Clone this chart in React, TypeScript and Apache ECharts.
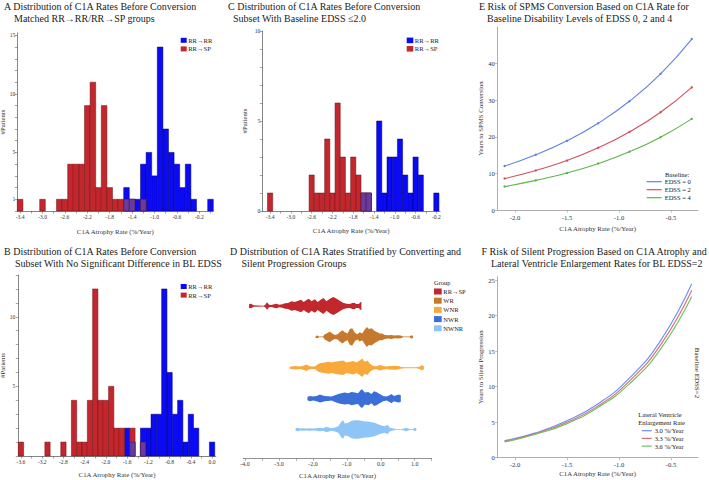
import React, { useEffect, useRef } from 'react';
import * as echarts from 'echarts';

const FONT = '"Liberation Serif", "Times New Roman", serif';
const BIN = 0.1;

// ---- Panel A: matched groups (bin centre, #patients)
const aRRRR: [number, number][] = [[-1.5, 2], [-1.4, 1], [-1.3, 1], [-1.2, 4], [-1.1, 5], [-1.0, 3], [-0.9, 14], [-0.8, 7], [-0.7, 5], [-0.6, 4], [-0.5, 2], [-0.4, 4], [-0.3, 1], [0.0, 1]];
const aRRSP: [number, number][] = [[-3.4, 1], [-3.0, 1], [-2.7, 1], [-2.6, 1], [-2.5, 4], [-2.4, 4], [-2.3, 4], [-2.2, 9], [-2.1, 11], [-2.0, 2], [-1.9, 9], [-1.8, 2], [-1.7, 1], [-1.6, 1], [-1.5, 1], [-1.4, 1], [-1.2, 1]];
const aXLabels = [-3.4, -3.0, -2.6, -2.2, -1.8, -1.4, -1.0, -0.6, -0.2];
const aYLabels = [1, 5, 10, 15];

// ---- Panel B
const bRRRR: [number, number][] = [[-1.6, 2], [-1.5, 1], [-1.3, 2], [-1.2, 2], [-1.1, 3], [-1.0, 3], [-0.9, 12], [-0.8, 6], [-0.7, 3], [-0.6, 4], [-0.5, 1], [-0.4, 3], [-0.3, 2], [0.0, 1]];
const bRRSP: [number, number][] = [[-3.6, 1], [-3.1, 1], [-2.8, 1], [-2.6, 4], [-2.5, 1], [-2.4, 1], [-2.3, 4], [-2.2, 12], [-2.1, 4], [-2.0, 4], [-1.9, 5], [-1.8, 2], [-1.7, 2], [-1.5, 2], [-1.3, 1]];
const bXLabels = [-3.6, -3.2, -2.8, -2.4, -2.0, -1.6, -1.2, -0.8, -0.4, 0.0];
const bYLabels = [5, 10];

// ---- Panel C
const cRRRR: [number, number][] = [[-1.6, 1], [-1.5, 1], [-1.3, 5], [-1.2, 1], [-1.1, 3], [-1.0, 3], [-0.9, 4], [-0.8, 2], [-0.7, 1], [-0.6, 3], [-0.5, 2], [-0.2, 1]];
const cRRSP: [number, number][] = [[-3.4, 1], [-2.6, 2], [-2.5, 1], [-2.4, 1], [-2.3, 4], [-2.2, 1], [-2.1, 6], [-2.0, 3], [-1.9, 1], [-1.8, 3], [-1.7, 2], [-1.6, 1], [-1.5, 1]];
const cXLabels = [-3.4, -3.0, -2.6, -2.2, -1.8, -1.4, -1.0, -0.6, -0.2];
const cYLabels = [0, 5, 10];

// ---- Panel D: silhouette profiles (rate, relative density)
const dGroups = ['RR→SP', 'WR', 'WNR', 'NWR', 'NWNR'];
const dRRSP: [number, number][] = [[-3.88, 2], [-3.82, 2.3], [-3.75, 0.7], [-3.46, 0.4], [-3.41, 1], [-3.35, 3.7], [-3.29, 1.3], [-3.22, 1], [-3.12, 2], [-3.06, 2.3], [-3.0, 1.3], [-2.9, 1.7], [-2.82, 2.7], [-2.73, 3], [-2.63, 4.7], [-2.53, 4], [-2.43, 5.3], [-2.35, 6.3], [-2.27, 4], [-2.19, 6], [-2.12, 7.3], [-2.04, 4.7], [-1.94, 6.7], [-1.86, 4], [-1.78, 6], [-1.69, 8], [-1.6, 4.7], [-1.5, 7.3], [-1.4, 9], [-1.3, 7.3], [-1.21, 5.3], [-1.11, 3.3], [-1.01, 2.3], [-0.91, 2], [-0.84, 3], [-0.78, 3.3], [-0.72, 2], [-0.65, 2], [-0.59, 4], [-0.57, 4]];
const dWR: [number, number][] = [[-1.92, 1], [-1.86, 1.3], [-1.82, 0.4], [-1.7, 0.4], [-1.65, 2.7], [-1.57, 4], [-1.5, 5.3], [-1.43, 3.3], [-1.35, 2], [-1.27, 2.7], [-1.21, 4.7], [-1.13, 6.7], [-1.06, 4.7], [-0.98, 3.3], [-0.91, 8], [-0.84, 8.7], [-0.76, 4], [-0.69, 2.7], [-0.62, 4.7], [-0.55, 3.3], [-0.47, 7.3], [-0.41, 10], [-0.35, 8], [-0.27, 8.7], [-0.18, 6], [-0.1, 4.7], [-0.03, 3.3], [0.04, 3.3], [0.12, 2], [0.22, 1.7], [0.31, 2], [0.41, 1.3], [0.51, 1.7], [0.59, 1.3], [0.66, 0.4], [0.85, 0.4], [0.9, 1.7], [0.95, 1]];
const dWNR: [number, number][] = [[-2.68, 1], [-2.63, 1.3], [-2.53, 1.7], [-2.38, 1.3], [-2.28, 2], [-2.19, 3.3], [-2.12, 1.7], [-2.04, 1.3], [-1.94, 1.3], [-1.84, 4], [-1.75, 4.7], [-1.65, 5.3], [-1.55, 6], [-1.45, 5.3], [-1.35, 6], [-1.21, 6.7], [-1.11, 7.3], [-1.01, 5.3], [-0.91, 6], [-0.81, 6.7], [-0.72, 5.3], [-0.62, 7.3], [-0.55, 9.3], [-0.47, 6], [-0.39, 7.3], [-0.32, 4], [-0.23, 2], [-0.13, 1.3], [-0.03, 2.7], [0.07, 1.7], [0.17, 1.3], [0.26, 1.7], [0.41, 2], [0.51, 1.7], [0.61, 0.7], [0.71, 0.4], [1.05, 0.4], [1.15, 1.3], [1.22, 2.7], [1.27, 1.3]];
const dNWR: [number, number][] = [[-2.16, 1.7], [-2.09, 2.7], [-1.99, 2], [-1.89, 2.7], [-1.79, 4], [-1.73, 3.3], [-1.65, 2.7], [-1.55, 2.3], [-1.45, 2], [-1.35, 3.3], [-1.25, 4.7], [-1.16, 5.3], [-1.06, 6], [-0.96, 5.3], [-0.86, 6.7], [-0.76, 6], [-0.67, 5.3], [-0.59, 8.7], [-0.55, 9.3], [-0.47, 6], [-0.37, 6.7], [-0.27, 4.7], [-0.2, 7.3], [-0.13, 6.7], [-0.03, 4.7], [0.07, 2.7], [0.17, 2], [0.26, 3.3], [0.31, 4.7], [0.39, 2.7], [0.46, 3.3], [0.53, 4], [0.59, 3.3]];
const dNWNR: [number, number][] = [[-2.51, 1.3], [-2.45, 1.7], [-2.38, 1], [-2.28, 1.3], [-2.19, 1], [-2.09, 1.3], [-1.99, 1], [-1.89, 1.3], [-1.79, 1.7], [-1.7, 1.3], [-1.6, 2.7], [-1.53, 2], [-1.45, 1.3], [-1.35, 2], [-1.25, 3.3], [-1.16, 8], [-1.11, 9.3], [-1.06, 6], [-0.96, 6.7], [-0.86, 8.7], [-0.76, 9.3], [-0.67, 9.3], [-0.57, 8.7], [-0.47, 8], [-0.37, 8], [-0.27, 7.3], [-0.18, 6.7], [-0.08, 5.3], [0.02, 4], [0.12, 3.3], [0.2, 4.7], [0.26, 2], [0.36, 1], [0.46, 0.4], [0.61, 0.4], [0.69, 1], [0.75, 1.7], [0.82, 0.7], [0.9, 0.4], [0.95, 0.4], [1.0, 1.7], [1.05, 1]];
const dXLabels = [-4, -3, -2, -1, 0, 1];
const dXTicks = [-4, -3.5, -3, -2.5, -2, -1.5, -1, -0.5, 0, 0.5, 1, 1.5];

// ---- Panel E
const eX = [-2.1, -1.8, -1.5, -1.2, -0.9, -0.6, -0.3];
const eEDSS0 = [12.0, 15.1, 18.9, 23.7, 29.7, 37.2, 46.7];
const eEDSS2 = [8.6, 10.8, 13.5, 17.0, 21.3, 26.7, 33.5];
const eEDSS4 = [6.4, 8.1, 10.1, 12.7, 15.9, 19.9, 24.9];
const eXLabels = [-2.0, -1.5, -1.0, -0.5];
const eYLabels = [0, 10, 20, 30, 40];

// ---- Panel F
const fX = [-2.1, -1.8, -1.5, -1.2, -0.9, -0.6, -0.3];
const fLVE30 = [2.4, 3.5, 5.2, 7.6, 11.2, 16.5, 24.5];
const fLVE33 = [2.3, 3.4, 5.0, 7.3, 10.8, 15.9, 23.6];
const fLVE36 = [2.2, 3.3, 4.8, 7.1, 10.4, 15.3, 22.7];
const fXLabels = [-2.0, -1.5, -1.0, -0.5];
const fYLabels = [0, 5, 10, 15, 20, 25];

const BLUE = '#0a0af5';
const BLUE_EDGE = '#00007a';
const RED = '#c1272d';
const RED_EDGE = '#6e1013';
const PURPLE = '#6a3a9c';
const D_COLORS = ['#c1272d', '#c6782c', '#f8a93a', '#3b6ed6', '#8fc4f6'];
const E_COLORS = ['#5f80e6', '#d2505c', '#5cb548'];
const F_COLORS = ['#6f8cf2', '#db6b78', '#6cc25c'];
const AXIS = '#666';

function overlapOf(r: [number, number][], b: [number, number][]): [number, number][] {
  const m = new Map(b.map(([c, n]) => [Math.round(c * 10), n]));
  return r
    .map(([c, n]) => [c, Math.min(n, m.get(Math.round(c * 10)) ?? 0)] as [number, number])
    .filter((d) => d[1] > 0);
}

function histSeries(data: [number, number][], gi: number, fill: string, stroke: string) {
  return {
    type: 'custom',
    xAxisIndex: gi,
    yAxisIndex: gi,
    silent: true,
    encode: { x: 0, y: 1 },
    data,
    renderItem: (_p: any, api: any) => {
      const c = api.value(0);
      const n = api.value(1);
      const p0 = api.coord([c - BIN / 2, n]);
      const p1 = api.coord([c + BIN / 2, 0]);
      return {
        type: 'rect',
        shape: { x: p0[0], y: p0[1], width: p1[0] - p0[0], height: p1[1] - p0[1] },
        style: { fill, stroke, lineWidth: 0.5 },
      };
    },
  };
}

function xAx(gi: number, min: number, max: number, labels: number[], ticks: number[], nameGap: number, fs: number, margin: number, color = AXIS) {
  return {
    gridIndex: gi, type: 'value', min, max,
    name: 'C1A Atrophy Rate (%/Year)', nameLocation: 'middle', nameGap,
    nameTextStyle: { fontFamily: FONT, fontSize: 6.8, color: '#333' },
    axisLine: { show: true, onZero: false, lineStyle: { color, width: 0.8 } },
    axisTick: { show: true, length: 2.5, customValues: ticks, lineStyle: { color, width: 0.6 } },
    axisLabel: { customValues: labels, formatter: (v: number) => v.toFixed(1), fontFamily: FONT, fontSize: fs, color: '#333', margin },
    splitLine: { show: false },
  };
}

function yAx(gi: number, min: number, max: number, labels: number[], ticks: number[], name: string, nameGap: number, fs: number, margin: number, color = AXIS) {
  return {
    gridIndex: gi, type: 'value', min, max,
    name, nameLocation: 'middle', nameGap,
    nameTextStyle: { fontFamily: FONT, fontSize: 6.8, color: '#333' },
    axisLine: { show: true, onZero: false, lineStyle: { color, width: 0.8 } },
    axisTick: { show: true, length: 2.5, customValues: ticks, lineStyle: { color, width: 0.6 } },
    axisLabel: { customValues: labels, fontFamily: FONT, fontSize: fs, color: '#333', margin },
    splitLine: { show: false },
  };
}

function txt(x: number, y: number, text: string, fontSize: number, extra: any = {}) {
  return {
    type: 'text', x, y, silent: true, ...extra,
    style: { text, fontFamily: FONT, fontSize, fill: '#222', verticalAlign: 'middle', align: 'left', ...(extra.style || {}) },
  };
}

function sqLegend(x: number, y: number, size: number, gap: number) {
  return [
    { type: 'rect', shape: { x, y, width: size, height: size - 1 }, style: { fill: BLUE } },
    txt(x + size + 1.5, y + (size - 1) / 2, 'RR→RR', 6.6),
    { type: 'rect', shape: { x, y: y + gap, width: size, height: size - 1 }, style: { fill: RED } },
    txt(x + size + 1.5, y + gap + (size - 1) / 2, 'RR→SP', 6.6),
  ];
}

function lineLegend(x: number, y0: number, step: number, labels: string[], colors: string[], len: number) {
  const out: any[] = [];
  labels.forEach((l, i) => {
    const y = y0 + i * step;
    out.push({ type: 'line', shape: { x1: x, y1: y, x2: x + len, y2: y }, style: { stroke: colors[i], lineWidth: 1.2 } });
    out.push(txt(x + len + 3, y, l, 6.5));
  });
  return out;
}

function buildOption() {
  const ints = (a: number, b: number) => Array.from({ length: b - a + 1 }, (_, i) => a + i);
  const histTicks = (from: number, to: number) => {
    const r: number[] = [];
    for (let k = Math.round(from * 10); k <= Math.round(to * 10); k += 2) r.push(k / 10);
    return r;
  };
  const dProfiles = [dRRSP, dWR, dWNR, dNWR, dNWNR];

  const grids = [
    { left: 17.3, top: 33, width: 196, height: 178 },
    { left: 18.3, top: 275, width: 197.5, height: 181 },
    { left: 262.3, top: 31, width: 177.7, height: 180 },
    { left: 243.3, top: 290, width: 188.4, height: 168.3 },
    { left: 497.3, top: 27, width: 200.7, height: 183 },
    { left: 497.3, top: 276.7, width: 200.7, height: 181 },
  ].map((g) => ({ ...g, containLabel: false, outerBoundsMode: 'none', show: false }));

  const xAxis = [
    xAx(0, -3.45, 0.05, aXLabels, histTicks(-3.4, 0), 17, 5.6, 3),
    xAx(1, -3.65, 0.07, bXLabels, histTicks(-3.6, 0), 15, 5.6, 3),
    xAx(2, -3.55, -0.13, cXLabels, histTicks(-3.4, -0.2), 16, 5.6, 3),
    xAx(3, -4.05, 1.5, dXLabels, dXTicks, 14, 6, 3, '#777'),
    xAx(4, -2.17, -0.24, eXLabels, eXLabels, 14.5, 6.6, 3.5, '#999'),
    xAx(5, -2.17, -0.24, fXLabels, fXLabels, 12.5, 6.6, 3, '#999'),
  ];
  const yAxis: any[] = [
    yAx(0, 0, 15.2, aYLabels, ints(0, 15), '#Patients', 8, 5.6, 2),
    yAx(1, 0, 13, bYLabels, ints(0, 13), '#Patients', 9, 5.6, 3),
    yAx(2, 0, 10, cYLabels, ints(0, 10), '#Patients', 14, 5.6, 2),
    { gridIndex: 3, type: 'value', min: -0.52, max: 4.935, inverse: true, show: false },
    yAx(4, 0, 50, eYLabels, eYLabels, 'Years to SPMS Conversion', 12, 6.6, 2.5, '#999'),
    yAx(5, 0, 25.5, fYLabels, fYLabels, 'Years to Silent Progression', 11, 6.6, 2.5, '#999'),
  ];

  const series: any[] = [];
  const hist = [
    [aRRRR, aRRSP],
    [bRRRR, bRRSP],
    [cRRRR, cRRSP],
  ] as [number, number][][][];
  hist.forEach(([rr, sp], gi) => {
    series.push(histSeries(rr, gi, BLUE, BLUE_EDGE));
    series.push(histSeries(sp, gi, RED, RED_EDGE));
    series.push(histSeries(overlapOf(sp, rr), gi, PURPLE, '#3a1a60'));
  });

  series.push({
    type: 'custom',
    xAxisIndex: 3,
    yAxisIndex: 3,
    silent: true,
    encode: { x: 0, y: 1 },
    data: dGroups.map((_g, i) => [0, i]),
    renderItem: (params: any, api: any) => {
      const i = params.dataIndex;
      const prof = dProfiles[i];
      const top = prof.map(([x, d]) => {
        const p = api.coord([x, i]);
        return [p[0], p[1] - d];
      });
      const bottom = prof
        .slice()
        .reverse()
        .map(([x, d]) => {
          const p = api.coord([x, i]);
          return [p[0], p[1] + d];
        });
      return { type: 'polygon', shape: { points: top.concat(bottom) }, style: { fill: D_COLORS[i] } };
    },
  });

  const lineS = (gi: number, xs: number[], ys: number[], color: string, marker: boolean) => ({
    type: 'line',
    xAxisIndex: gi,
    yAxisIndex: gi,
    data: xs.map((x, i) => [x, ys[i]]),
    smooth: 0.5,
    symbol: 'circle',
    showSymbol: marker,
    symbolSize: 2.4,
    lineStyle: { color, width: 1.1 },
    itemStyle: { color },
    silent: true,
  });
  series.push(lineS(4, eX, eEDSS0, E_COLORS[0], true));
  series.push(lineS(4, eX, eEDSS2, E_COLORS[1], true));
  series.push(lineS(4, eX, eEDSS4, E_COLORS[2], true));
  series.push(lineS(5, fX, fLVE30, F_COLORS[0], false));
  series.push(lineS(5, fX, fLVE33, F_COLORS[1], false));
  series.push(lineS(5, fX, fLVE36, F_COLORS[2], false));

  const graphic: any[] = [
    txt(4, 6.5, 'A Distribution of C1A Rates Before Conversion', 10),
    txt(14, 18.5, 'Matched RR→RR/RR→SP groups', 10),
    txt(4, 251, 'B Distribution of C1A Rates Before Conversion', 10),
    txt(15, 263.5, 'Subset With No Significant Difference in BL EDSS', 10),
    txt(228, 6.5, 'C Distribution of C1A Rates Before Conversion', 10),
    txt(233, 18.5, 'Subset With Baseline EDSS ≤2.0', 10),
    txt(230, 251, 'D Distribution of C1A Rates Stratified by Converting and', 10),
    txt(241.5, 263.5, 'Silent Progression Groups', 10),
    txt(479, 6.5, 'E Risk of SPMS Conversion Based on C1A Rate for', 10),
    txt(487, 18.5, 'Baseline Disability Levels of EDSS 0, 2 and 4', 10),
    txt(481.5, 251, 'F Risk of Silent Progression Based on C1A Atrophy and', 10),
    txt(491, 263.5, 'Lateral Ventricle Enlargement Rates for BL EDSS=2', 10),
    ...sqLegend(180.7, 37.8, 6, 8.6),
    ...sqLegend(180.7, 284, 6, 8.6),
    ...sqLegend(406.7, 37.6, 6.6, 8.4),
    txt(434, 282, 'Group', 6.5),
    ...dGroups.flatMap((g, i) => [
      { type: 'rect', shape: { x: 434, y: 288.5 + i * 9.2, width: 7.7, height: 6 }, style: { fill: D_COLORS[i] } },
      txt(443.3, 291.5 + i * 9.2, g, 6.5),
    ]),
    txt(665, 174, 'Baseline:', 6.5),
    ...lineLegend(646.7, 181.7, 8, ['EDSS = 0', 'EDSS = 2', 'EDSS = 4'], E_COLORS, 15),
    txt(638.3, 414.3, 'Lateral Ventricle', 6.5),
    txt(638.3, 422.7, 'Enlargement Rate', 6.5),
    ...lineLegend(641.7, 430.7, 7.7, ['3.0 %/Year', '3.3 %/Year', '3.6 %/Year'], F_COLORS, 10),
    {
      type: 'text', x: 697, y: 373, rotation: -Math.PI / 2, silent: true,
      style: { text: 'Baseline EDSS=2', fontFamily: FONT, fontSize: 7, fill: '#222', align: 'center', verticalAlign: 'middle' },
    },
  ];

  return {
    animation: false,
    backgroundColor: '#ffffff',
    textStyle: { fontFamily: FONT },
    grid: grids,
    xAxis,
    yAxis,
    series,
    graphic,
  };
}

export default function App() {
  const ref = useRef<HTMLDivElement>(null);
  useEffect(() => {
    if (!ref.current) return;
    const chart = echarts.init(ref.current, null, { renderer: 'svg' });
    chart.setOption(buildOption() as any);
    return () => chart.dispose();
  }, []);
  return (
    <div
      ref={ref}
      style={{ position: 'absolute', left: 0, top: 0, width: 709, height: 480, background: '#fff' }}
    />
  );
}
